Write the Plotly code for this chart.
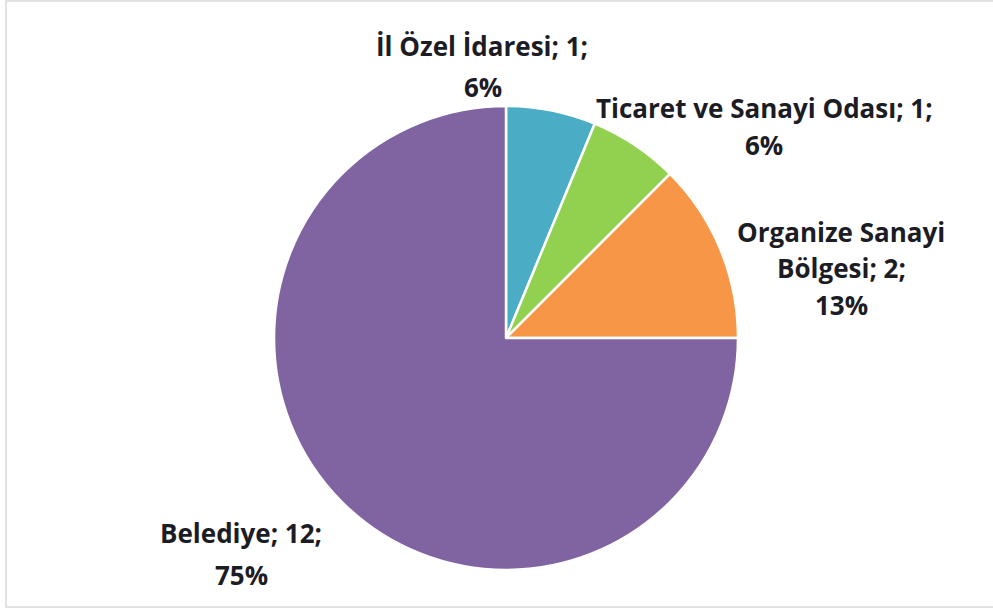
import plotly.graph_objects as go

labels = ["İl Özel İdaresi", "Ticaret ve Sanayi Odası", "Organize Sanayi Bölgesi", "Belediye"]
values = [1, 1, 2, 12]
colors = ["#4BACC6", "#92D050", "#F79646", "#8064A2"]
pcts = ["6%", "6%", "13%", "75%"]

W, H = 993, 609

fig = go.Figure(go.Pie(
    labels=labels, values=values, sort=False, direction="clockwise", rotation=0,
    marker=dict(colors=colors, line=dict(color="white", width=2.5)),
    textinfo="none", hoverinfo="label+value+percent", showlegend=False,
    domain=dict(x=[274/W, 738/W], y=[1-572/H, 1-104/H]),
))

label_lines = [
    ([f"{labels[0]}; {values[0]};", pcts[0]], [(482, 46), (483, 87)]),
    ([f"{labels[1]}; {values[1]};", pcts[1]], [(764, 108), (764, 145)]),
    (["Organize Sanayi", f"Bölgesi; {values[2]};", pcts[2]], [(841, 232), (841, 268), (841, 305)]),
    ([f"{labels[3]}; {values[3]};", pcts[3]], [(241, 533), (241, 575)]),
]
for lines, pos in label_lines:
    for t, (px, py) in zip(lines, pos):
        fig.add_annotation(x=px/W, y=1-py/H, xref="paper", yref="paper", text=t,
                           showarrow=False, xanchor="center", yanchor="middle",
                           font=dict(family="Open Sans", size=26, color="#1c1c24", weight="bold"))

fig.add_shape(type="rect", xref="paper", yref="paper", x0=6/W, x1=1.02, y0=1-607/H, y1=1-1/H,
              line=dict(color="#d9d9d9", width=1.5), fillcolor="rgba(0,0,0,0)")

fig.update_layout(width=W, height=H, margin=dict(l=0, r=0, t=0, b=0),
                  paper_bgcolor="white", plot_bgcolor="white")
fig.write_html("out.html", config={"displayModeBar": False},
               post_script="document.body.style.margin='0';")
